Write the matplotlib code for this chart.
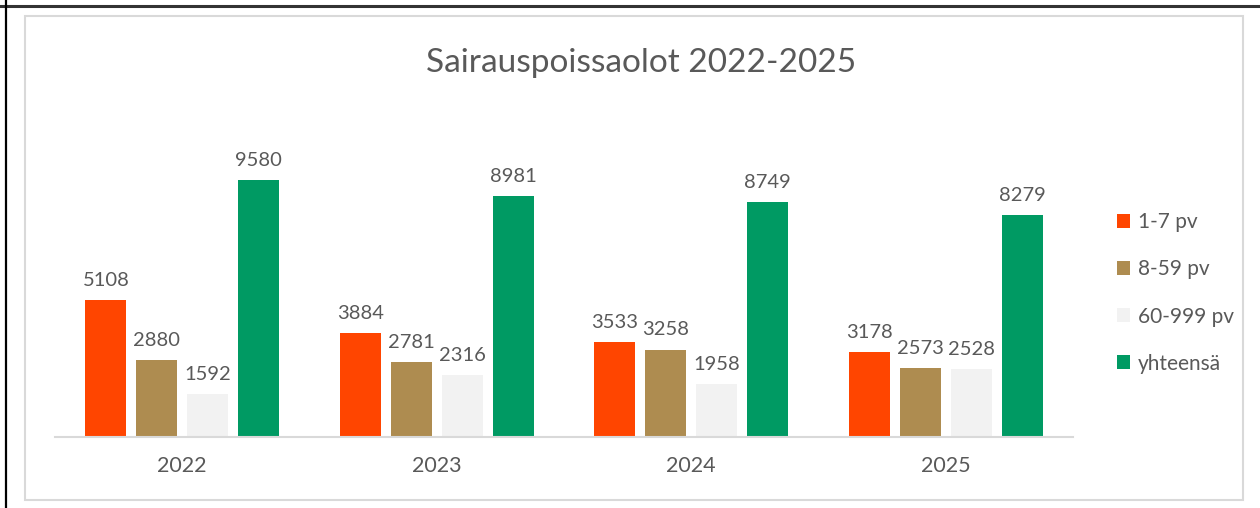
import matplotlib.pyplot as plt
import numpy as np
from matplotlib.patches import Rectangle

plt.rcParams['font.family'] = ['Lato', 'DejaVu Sans']

years = ['2022', '2023', '2024', '2025']
series_names = ['1-7 pv', '8-59 pv', '60-999 pv', 'yhteensä']
v_1_7 = [5108, 3884, 3533, 3178]
v_8_59 = [2880, 2781, 3258, 2573]
v_60_999 = [1592, 2316, 1958, 2528]
v_total = [9580, 8981, 8749, 8279]
colors = ['#FF4500', '#AE8C50', '#F2F2F2', '#009A63']
text_col = '#595959'

fig = plt.figure(figsize=(12.6, 5.08), dpi=100)

# outer black frame (top/left) and inner gray chart border
fig.add_artist(plt.Line2D([0, 1], [1 - 5.5 / 508] * 2, color='#333333', lw=2.2))
fig.add_artist(plt.Line2D([5.5 / 1260] * 2, [0, 1], color='black', lw=1.6))
fig.add_artist(Rectangle((25 / 1260, 1 - 500 / 508), 1218 / 1260, 484 / 508,
                         fill=False, edgecolor='#D9D9D9', lw=1.5))

ax = fig.add_axes([55 / 1260, 1 - 437 / 508, 1018 / 1260, 322 / 508])

x = np.arange(len(years))
width = 0.161
pitch = 0.2
all_vals = [v_1_7, v_8_59, v_60_999, v_total]
for i, (vals, name, c) in enumerate(zip(all_vals, series_names, colors)):
    pos = x + (i - 1.5) * pitch
    bars = ax.bar(pos, vals, width, color=c, label=name, zorder=2)
    for b, v in zip(bars, vals):
        ax.annotate(str(v), (b.get_x() + b.get_width() / 2, v),
                    xytext=(0, 8), textcoords='offset points',
                    ha='center', va='bottom', fontsize=14.5, color=text_col)

ax.set_xlim(-0.5, 3.5)
ax.set_ylim(0, 12000)
ax.set_xticks(x)
ax.set_xticklabels(years, fontsize=15.5, color=text_col)
ax.tick_params(axis='x', length=0, pad=14)
ax.set_yticks([])
for s in ['top', 'right', 'left']:
    ax.spines[s].set_visible(False)
ax.spines['bottom'].set_color('#D9D9D9')
ax.spines['bottom'].set_linewidth(1.5)

fig.text(641 / 1260, 1 - 63 / 508, 'Sairauspoissaolot 2022-2025',
         ha='center', va='center', fontsize=24, color=text_col)

leg = fig.legend(loc='center left', bbox_to_anchor=(1098 / 1260, 1 - 293 / 508),
                 frameon=False, fontsize=15, labelspacing=1.3,
                 handlelength=0.65, handleheight=0.65, handletextpad=0.35)
for t in leg.get_texts():
    t.set_color(text_col)

fig.savefig('out.png', dpi=100)
